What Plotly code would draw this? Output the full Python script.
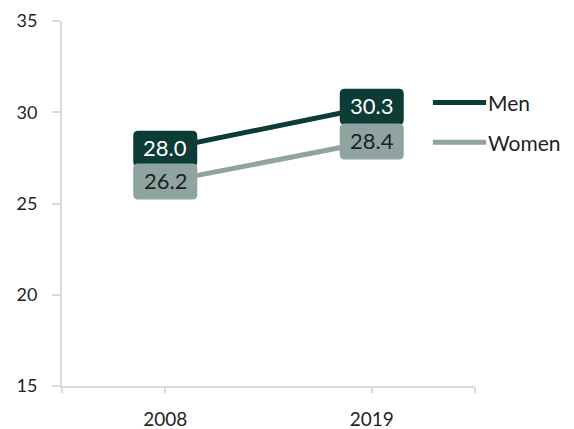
import plotly.graph_objects as go

categories = ["2008", "2019"]
men = [28.0, 30.3]
women = [26.2, 28.4]
series_names = ["Men", "Women"]
y_ticks = [15, 20, 25, 30, 35]

MEN_C = "#0d3b36"
WOMEN_C = "#8fa4a0"
AX_C = "#d9d9d9"
FONT = "Lato"
TXT = "#1f1f1f"

xs = list(range(len(categories)))

fig = go.Figure()
fig.add_trace(go.Scatter(x=xs, y=men, mode="lines", line=dict(color=MEN_C, width=5),
                         name=series_names[0], showlegend=False, hoverinfo="skip"))
fig.add_trace(go.Scatter(x=xs, y=women, mode="lines", line=dict(color=WOMEN_C, width=5),
                         name=series_names[1], showlegend=False, hoverinfo="skip"))

W, H, R = 32, 18, 5
def rrect(w, h, r):
    return (f"M{-w+r},{-h} L{w-r},{-h} Q{w},{-h} {w},{-h+r} L{w},{h-r} Q{w},{h} {w-r},{h} "
            f"L{-w+r},{h} Q{-w},{h} {-w},{h-r} L{-w},{-h+r} Q{-w},{-h} {-w+r},{-h} Z")

shapes = []
annotations = []
for vals, col, tcol in [(men, MEN_C, "white"), (women, WOMEN_C, TXT)]:
    for x, v in zip(xs, vals):
        shapes.append(dict(type="path", xref="x", yref="y", xsizemode="pixel", ysizemode="pixel",
                           xanchor=x, yanchor=v, path=rrect(W, H, R),
                           fillcolor=col, line=dict(width=0), layer="above"))
        annotations.append(dict(x=x, y=v, xref="x", yref="y", text=f"{v:.1f}", showarrow=False,
                                yshift=1, font=dict(family=FONT, size=22, color=tcol)))

# manual legend
for name, col, py in [(series_names[0], MEN_C, 0.777), (series_names[1], WOMEN_C, 0.668)]:
    shapes.append(dict(type="line", xref="paper", yref="paper", x0=0.898, x1=1.027, y0=py, y1=py,
                       line=dict(color=col, width=5)))
    annotations.append(dict(x=1.026, y=py, xref="paper", yref="paper", text=name, showarrow=False,
                            xanchor="left", yanchor="middle",
                            font=dict(family=FONT, size=21, color=TXT)))

# page has an 8px body margin: compensate in the figure margins
fig.update_layout(
    width=566, height=421,
    margin=dict(l=54, r=99, t=13, b=43),
    paper_bgcolor="white", plot_bgcolor="white",
    shapes=shapes, annotations=annotations,
    showlegend=False,
    font=dict(family=FONT, size=19, color=TXT),
)
fig.update_xaxes(range=[-0.5, 1.5], tickvals=[-0.5] + xs + [1.5], ticktext=[""] + categories + [""],
                 showgrid=False, zeroline=False, showline=True, linecolor=AX_C, linewidth=2,
                 ticks="outside", ticklen=5, tickcolor=AX_C, tickwidth=2, ticklabelstandoff=10,
                 automargin=False, tickfont=dict(family=FONT, size=19, color=TXT))
fig.update_yaxes(range=[15, 35], tickvals=y_ticks, showgrid=False, zeroline=False, showline=True,
                 linecolor=AX_C, linewidth=2, ticks="outside", ticklen=8, tickcolor=AX_C, tickwidth=2,
                 ticklabelstandoff=11, automargin=False, tickfont=dict(family=FONT, size=18, color=TXT))

fig.write_html("out.html")
